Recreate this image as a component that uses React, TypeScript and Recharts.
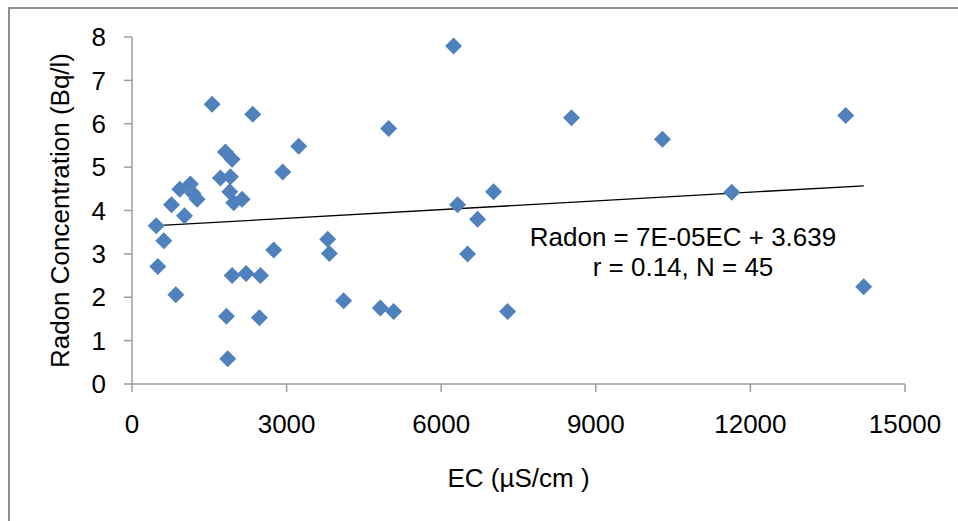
import {
  ScatterChart,
  Scatter,
  XAxis,
  YAxis,
  ReferenceLine,
  Customized,
} from "recharts";

const MARKER_BLUE = "#4F81BD";
const AXIS_GRAY = "#9d9d9d";
const FONT = "'Liberation Sans', Arial, sans-serif";

// EC (µS/cm) and radon (Bq/l) for each of the 45 samples
const ecValues = [
  469, 617, 501, 850, 766, 1018, 928, 1134, 1264, 1180, 1555, 1813, 1943,
  1716, 1910, 1897, 1974, 2137, 2343, 2925, 3235, 1833, 1858, 1943, 2214,
  2492, 2472, 2750, 3797, 3830, 4107, 4819, 5077, 4980, 6240, 6318, 6706,
  7016, 6512, 7288, 8529, 10293, 11638, 13849, 14198,
];
const radonValues = [
  3.65, 3.3, 2.71, 2.06, 4.13, 3.88, 4.49, 4.61, 4.26, 4.4, 6.45, 5.35, 5.18,
  4.75, 4.78, 4.43, 4.18, 4.26, 6.22, 4.89, 5.48, 1.56, 0.58, 2.5, 2.55, 2.5,
  1.53, 3.09, 3.34, 3.01, 1.92, 1.75, 1.67, 5.89, 7.79, 4.13, 3.8, 4.43, 3.0,
  1.67, 6.14, 5.64, 4.42, 6.19, 2.24,
];

const xTicks = [0, 3000, 6000, 9000, 12000, 15000];
const yTicks = [0, 1, 2, 3, 4, 5, 6, 7, 8];

// linear trend line end points
const trendX = [470, 14200];
const trendY = [3.65, 4.57];

const equationLines = ["Radon = 7E-05EC + 3.639", "r = 0.14, N = 45"];

const points = ecValues.map((ec, i) => ({ ec, radon: radonValues[i] }));

function Diamond(props: any) {
  const { cx, cy } = props;
  const r = 8.5;
  return (
    <polygon
      points={`${cx},${cy - r} ${cx + r},${cy} ${cx},${cy + r} ${cx - r},${cy}`}
      fill={MARKER_BLUE}
    />
  );
}

function Equation() {
  return (
    <text
      x={683}
      y={246}
      textAnchor="middle"
      fontFamily={FONT}
      fontSize={26}
      fill="#000"
    >
      <tspan x={683} y={246}>
        {equationLines[0]}
      </tspan>
      <tspan x={683} y={276}>
        {equationLines[1]}
      </tspan>
    </text>
  );
}

const tickStyle = { fontSize: 26, fill: "#000", fontFamily: FONT };

export default function App() {
  return (
    <div
      style={{
        position: "absolute",
        left: 0,
        top: 0,
        width: 958,
        height: 521,
        overflow: "hidden",
        background: "#fff",
      }}
    >
      <div
        style={{
          position: "absolute",
          left: 8,
          top: 7,
          width: 960,
          height: 540,
          border: "2px solid #8f8f8f",
        }}
      />
      <div style={{ position: "absolute", left: 0, top: 0 }}>
        <ScatterChart
          width={958}
          height={521}
          margin={{ top: 37, right: 53, bottom: 17, left: 32 }}
        >
          <XAxis
            type="number"
            dataKey="ec"
            domain={[0, 15000]}
            ticks={xTicks}
            height={120}
            tickSize={8}
            tickMargin={23}
            stroke={AXIS_GRAY}
            strokeWidth={1.5}
            tick={tickStyle}
            label={{
              value: "EC (µS/cm )",
              position: "insideBottom",
              offset: 17,
              style: { ...tickStyle, textAnchor: "middle" },
            }}
          />
          <YAxis
            type="number"
            dataKey="radon"
            domain={[0, 8]}
            ticks={yTicks}
            width={100}
            tickSize={8}
            tickMargin={18}
            stroke={AXIS_GRAY}
            strokeWidth={1.5}
            tick={tickStyle}
            label={{
              value: "Radon Concentration (Bq/l)",
              angle: -90,
              position: "insideLeft",
              offset: 28,
              style: { ...tickStyle, textAnchor: "middle" },
            }}
          />
          <ReferenceLine
            segment={[
              { x: trendX[0], y: trendY[0] },
              { x: trendX[1], y: trendY[1] },
            ]}
            stroke="#000"
            strokeWidth={1.3}
          />
          <Scatter
            data={points}
            shape={<Diamond />}
            isAnimationActive={false}
          />
          <Customized component={<Equation />} />
        </ScatterChart>
      </div>
    </div>
  );
}
